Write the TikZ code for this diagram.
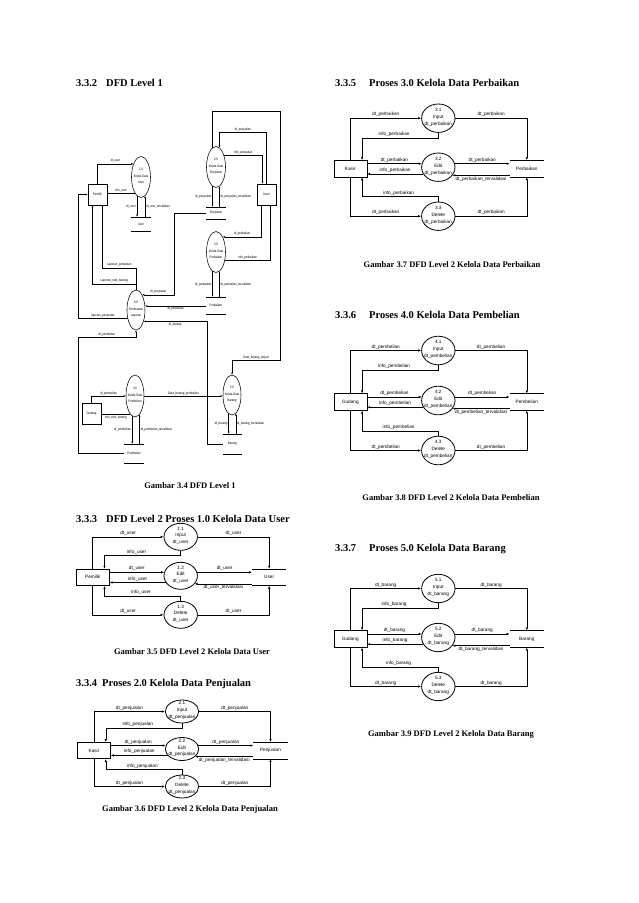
\documentclass[tikz,border=0pt]{standalone}
\usepackage{fontspec}
\setmainfont{Liberation Serif}
\setsansfont{Liberation Sans}
\newfontfamily\narrowsf[FakeStretch=0.8]{Liberation Sans}
\usepackage{tikz}
\usetikzlibrary{arrows.meta,shapes.geometric}
\newcommand{\lvonefont}{\fontsize{3.5}{6.5}\selectfont\narrowsf}
\newcommand{\lvtwofont}{\fontsize{4.7}{6.8}\selectfont\sffamily}
\newcommand{\etext}[3]{\makebox[0pt]{\smash{\begin{tabular}{@{}c@{}}#1\\#2\\#3\end{tabular}}}}
\tikzset{
  arr1/.style={-{Latex[length=2.2pt,width=1.8pt]},line width=.45pt},
  arr2/.style={-{Latex[length=3pt,width=2.4pt]},line width=.6pt},
  lab1/.style={font=\lvonefont,inner sep=1pt},
  lab2/.style={font=\lvtwofont,inner sep=1.2pt},
  ent1/.style={draw,line width=.5pt,minimum width=19pt,minimum height=21pt,inner sep=0pt,font=\lvonefont},
  proc1/.style={draw,ellipse,line width=.55pt,minimum width=19pt,minimum height=41pt,inner sep=0pt,font=\lvonefont},
  store1/.style={minimum width=19pt,inner sep=0pt,font=\lvonefont,
    append after command={(\tikzlastnode.north west) edge[line width=.5pt] (\tikzlastnode.north east)
      (\tikzlastnode.south west) edge[line width=.5pt] (\tikzlastnode.south east)}},
  ent2/.style={draw,line width=.6pt,minimum width=33pt,minimum height=16.5pt,inner sep=0pt,font=\lvtwofont},
  proc2/.style={draw,ellipse,line width=.8pt,minimum width=33.4pt,inner sep=0pt,font=\lvtwofont},
  store2/.style={minimum width=34pt,minimum height=16.5pt,inner sep=0pt,font=\lvtwofont,
    append after command={(\tikzlastnode.north west) edge[line width=.6pt] (\tikzlastnode.north east)
      (\tikzlastnode.south west) edge[line width=.6pt] (\tikzlastnode.south east)}},
  head/.style={anchor=base west,inner sep=0pt,font=\fontsize{10.5}{12}\selectfont\bfseries},
  capt/.style={anchor=base,inner sep=0pt,font=\fontsize{8.5}{10}\selectfont\bfseries}
}
% level 2 diagram: x, y (centre of middle process), spacing, ellipse height, entity, store, data word, number
\newcommand{\dfdtwo}[8]{%
\begin{scope}[shift={(#1,#2)}]
  \node[ent2] (ent#8) at (-88,1.5) {#5};
  \node[store2] (st#8) at (88.5,1.5) {#6};
  \node[proc2,minimum height=#4] (e#8a) at (0,-#3) {\etext{#8.1}{Input}{dt\_#7}};
  \node[proc2,minimum height=#4] (e#8b) at (0,0) {\etext{#8.2}{Edit}{dt\_#7}};
  \node[proc2,minimum height=#4] (e#8c) at (0,#3) {\etext{#8.3}{Delete}{dt\_#7}};
  \draw[arr2] (ent#8.north) |- node[lab2,pos=.75,above]{dt\_#7} (e#8a.west);
  \draw[arr2] (e#8a.east) -| node[lab2,pos=.25,above]{dt\_#7} (st#8.north);
  \draw[arr2] (e#8a.south) -- ++(0,5) -| node[lab2,pos=.29,above]{info\_#7} ([xshift=-5pt]ent#8.north east);
  \draw[arr2] (ent#8.east |- e#8b.168) -- node[lab2,above]{dt\_#7} (e#8b.168);
  \draw[arr2] (e#8b.204) -- node[lab2,above]{info\_#7} (e#8b.204 -| ent#8.east);
  \draw[arr2] (e#8b.12) -- node[lab2,above]{dt\_#7} (e#8b.12 -| st#8.west);
  \draw[arr2] (st#8.west |- e#8b.330) -- node[lab2,below]{dt\_#7\_tervalidasi} (e#8b.330);
  \draw[arr2] (e#8c.north) -- ++(0,-5) -| node[lab2,pos=.26,above]{info\_#7} ([xshift=-5pt]ent#8.south east);
  \draw[arr2] (ent#8.south) |- node[lab2,pos=.75,above]{dt\_#7} (e#8c.west);
  \draw[arr2] (e#8c.east) -| node[lab2,pos=.25,above]{dt\_#7} (st#8.south);
\end{scope}}

\begin{document}
\begin{tikzpicture}[x=1pt,y=-1pt]
\fill[white] (0,0) rectangle (638,903);
\useasboundingbox (0,0) rectangle (638,903);

% headings and captions
\node[head] (h332) at (76,86) {\makebox[30pt][l]{3.3.2}DFD Level 1};
\node[head] (h333) at (76,522) {\makebox[30pt][l]{3.3.3}DFD Level 2 Proses 1.0 Kelola Data User};
\node[head] (h334) at (76,686) {\makebox[26pt][l]{3.3.4}Proses 2.0 Kelola Data Penjualan};
\node[head] (h335) at (335,86) {\makebox[34pt][l]{3.3.5}Proses 3.0 Kelola Data Perbaikan};
\node[head] (h336) at (335,318) {\makebox[34pt][l]{3.3.6}Proses 4.0 Kelola Data Pembelian};
\node[head] (h337) at (335,551) {\makebox[34pt][l]{3.3.7}Proses 5.0 Kelola Data Barang};
\node[capt] (g34) at (190,488) {Gambar 3.4 DFD Level 1};
\node[capt] (g35) at (192,654) {Gambar 3.5 DFD Level 2 Kelola Data User};
\node[capt] (g36) at (190,811) {Gambar 3.6 DFD Level 2 Kelola Data Penjualan};
\node[capt] (g37) at (452,267) {Gambar 3.7 DFD Level 2 Kelola Data Perbaikan};
\node[capt] (g38) at (451,500) {Gambar 3.8 DFD Level 2 Kelola Data Pembelian};
\node[capt] (g39) at (451,736) {Gambar 3.9 DFD Level 2 Kelola Data Barang};

% DFD level 1
\node[ent1] (pemilik) at (97.5,194.5) {Pemilik};
\node[proc1] (p1) at (141,177) {\etext{1.0}{Kelola Data}{User}};
\node[store1,minimum height=14pt] (suser) at (141,224) {User};
\node[proc1] (p2) at (216,167) {\etext{2.0}{Kelola Data}{Penjualan}};
\node[ent1] (kasir) at (266.5,194.5) {Kasir};
\node[store1,minimum height=12pt] (sjual) at (216,213) {Penjualan};
\node[proc1] (p3) at (216,252) {\etext{3.0}{Kelola Data}{Perbaikan}};
\node[store1,minimum height=17pt] (sbaik) at (216,305.5) {Perbaikan};
\node[proc1,minimum height=40pt,minimum width=18pt] (p6) at (136,310) {\etext{6.0}{Pembuatan}{Laporan}};
\node[ent1] (gudang) at (91.5,413.5) {Gudang};
\node[proc1,minimum height=42pt,minimum width=18pt] (p4) at (135,396) {\etext{4.0}{Kelola Data}{Pembelian}};
\node[store1,minimum height=19pt] (sbeli) at (134,453.5) {Pembelian};
\node[proc1,minimum height=40pt,minimum width=18pt] (p5) at (232,395) {\etext{5.0}{Kelola Data}{Barang}};
\node[store1,minimum height=20pt] (sbarang) at (232.5,444) {Barang};
\coordinate (loopa) at (280,111);
\coordinate (loopb) at (280,360);

\draw[arr1] (pemilik.north) |- node[lab1,pos=.75,above]{dt\_user} (p1.120);
\draw[arr1] (p1.250) -- node[lab1,above]{info\_user} (p1.250 -| pemilik.east);
\draw[arr1] (p1.258) -- node[lab1,left]{dt\_user} (p1.258 |- suser.north);
\draw[arr1] (p1.282 |- suser.north) -- node[lab1,right]{dt\_user\_tervalidasi} (p1.282);

\draw[arr1] (kasir.north) |- node[lab1,pos=.75,above]{dt\_penjualan} ([yshift=15pt]p2.80) -- (p2.80);
\draw[arr1] (p2.55) -| node[lab1,pos=.25,above]{info\_penjualan} ([xshift=-4pt]kasir.north);
\draw[arr1] (p2.260) -- node[lab1,left]{dt\_penjualan} (p2.260 |- sjual.north);
\draw[arr1] (p2.280 |- sjual.north) -- node[lab1,right]{dt\_penjualan\_tervalidasi} (p2.280);
\draw[arr1] (p2.100) |- (loopa) -- (loopb) -| node[lab1,pos=.25,above]{Data\_barang\_terjual} (p5.north);

\draw[arr1] ([xshift=-5pt]kasir.south) |- node[lab1,pos=.75,above]{dt\_perbaikan} (p3.66);
\draw[arr1] (p3.318) -| node[lab1,pos=.25,above]{info\_perbaikan} ([xshift=4pt]kasir.south);
\draw[arr1] (p3.260) -- node[lab1,left]{dt\_perbaikan} (p3.260 |- sbaik.north);
\draw[arr1] (p3.280 |- sbaik.north) -- node[lab1,right]{dt\_perbaikan\_tervalidasi} (p3.280);

\draw[arr1] (sjual.west) -- ++(-32,0) |- node[lab1,pos=.75,above]{dt\_penjualan} (p6.68);
\draw[arr1] (sbaik.west |- p6.24) -- node[lab1,below]{dt\_perbaikan} (p6.24);
\draw[arr1] (sbarang.west) -- ++(-16,0) |- node[lab1,pos=.75,below]{dt\_barang} (p6.304);
\draw[arr1] (p6.224) -- node[lab1,above]{laporan\_penjualan} ++(-49,0) |- (pemilik.west);
\draw[arr1] (p6.north) -- ++(0,-6) -| node[lab1,pos=.25,above]{Laporan\_stok\_barang} ([xshift=-5pt]pemilik.south);
\draw[arr1] (p6.north) -- ++(0,-22) -| node[lab1,pos=.25,above]{Laporan\_perbaikan} ([xshift=5pt]pemilik.south);
\draw[arr1] (sbeli.west) -- ++(-46.5,0) |- node[lab1,pos=.75,above]{dt\_pembelian} ([yshift=-7pt]p6.south) -- (p6.south);

\draw[arr1] (gudang.north) |- node[lab1,pos=.75,above]{dt\_pembelian} (p4.west);
\draw[arr1] (p4.256) -- node[lab1,below]{info\_stok\_barang} (p4.256 -| gudang.east);
\draw[arr1] (p4.262) -- node[lab1,left]{dt\_pembelian} (p4.262 |- sbeli.north);
\draw[arr1] (p4.284 |- sbeli.north) -- node[lab1,right]{dt\_pembelian\_tervalidasi} (p4.284);
\draw[arr1] (p4.east) -- node[lab1,above]{Data\_barang\_pembelian} (p4.east -| p5.west);

\draw[arr1] (p5.260) -- node[lab1,left]{dt\_barang} (p5.260 |- sbarang.north);
\draw[arr1] (p5.282 |- sbarang.north) -- node[lab1,right]{dt\_barang\_tervalidasi} (p5.282);

% DFD level 2
\dfdtwo{180.7}{575.8}{39}{27pt}{Pemilik}{User}{user}{1}
\dfdtwo{182}{749}{37.5}{23pt}{Kasir}{Penjualan}{penjualan}{2}
\dfdtwo{438.3}{167.2}{49}{28.4pt}{Kasir}{Perbaikan}{perbaikan}{3}
\dfdtwo{438.3}{400.5}{50}{28.6pt}{Gudang}{Pembelian}{pembelian}{4}
\dfdtwo{438.3}{637.5}{49}{28.4pt}{Gudang}{Barang}{barang}{5}
\end{tikzpicture}
\end{document}
